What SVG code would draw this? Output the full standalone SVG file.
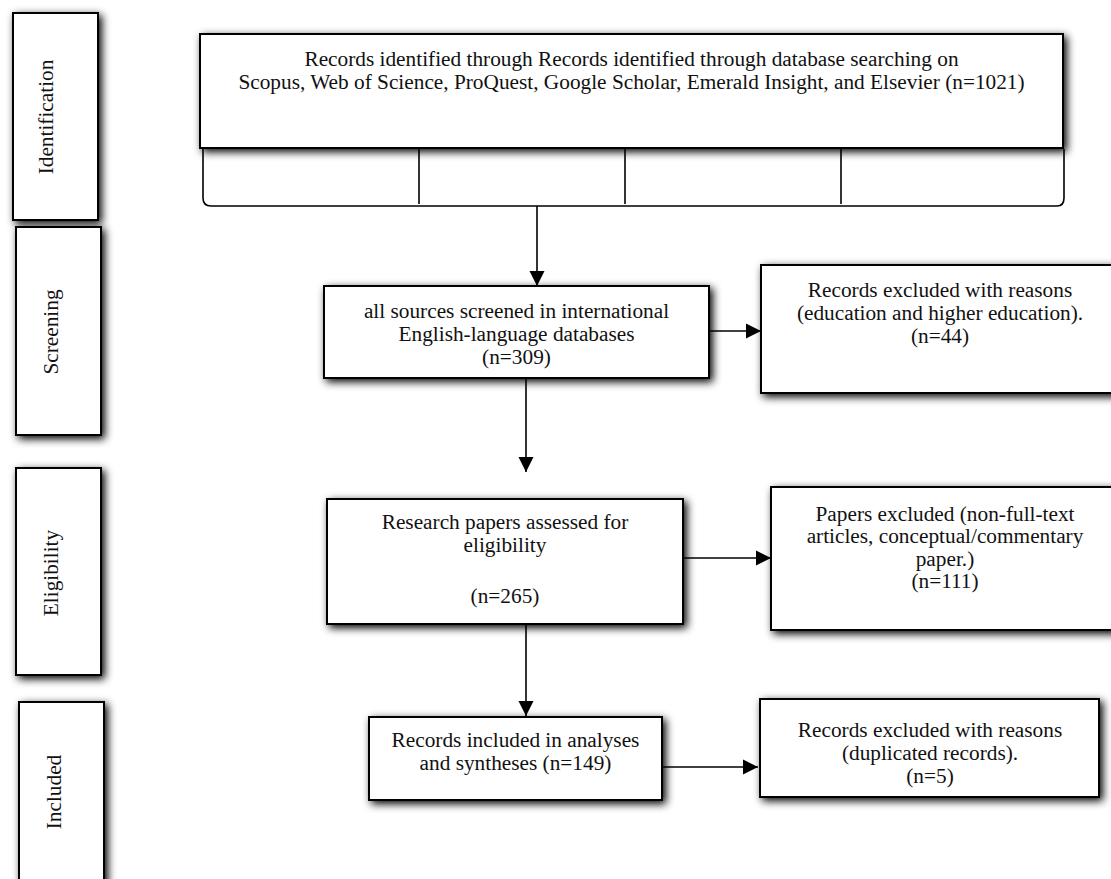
<svg xmlns="http://www.w3.org/2000/svg" width="1111" height="879" viewBox="0 0 1111 879">
<style>
.box{fill:#fff;stroke:#000;stroke-width:2;filter:url(#sh)}
.t{font-family:"Liberation Serif","Times New Roman",serif;font-size:21.3px;fill:#111;text-anchor:middle}
.c{fill:none;stroke:#000;stroke-width:1.6}
</style>
<defs>
<filter id="sh" x="-20%" y="-20%" width="140%" height="140%">
<feGaussianBlur in="SourceAlpha" stdDeviation="4" result="b"/>
<feOffset in="b" dx="3" dy="3" result="o"/>
<feComponentTransfer in="o" result="s"><feFuncA type="linear" slope="1"/></feComponentTransfer>
<feMerge><feMergeNode in="s"/><feMergeNode in="SourceGraphic"/></feMerge>
</filter>
<marker id="ah" markerUnits="userSpaceOnUse" markerWidth="16" markerHeight="16" viewBox="0 0 16 16" refX="15" refY="8" orient="auto">
<path d="M0,0.5 L15,8 L0,15.5 Z" fill="#000"/>
</marker>
</defs>

<g id="stage-identification">
<rect class="box" x="13" y="13" width="85" height="207"/>
<text class="t" transform="translate(53,117) rotate(-90)">Identification</text>
</g>
<g id="stage-screening">
<rect class="box" x="16" y="227" width="85" height="208"/>
<text class="t" transform="translate(58,332) rotate(-90)">Screening</text>
</g>
<g id="stage-eligibility">
<rect class="box" x="16" y="468" width="85" height="207"/>
<text class="t" transform="translate(58,573) rotate(-90)">Eligibility</text>
</g>
<g id="stage-included">
<rect class="box" x="19" y="702" width="85" height="182"/>
<text class="t" transform="translate(61,792) rotate(-90)">Included</text>
</g>

<g id="identified">
<rect class="box" x="200" y="34" width="863" height="114"/>
<text class="t" x="631.5" y="66">Records identified through Records identified through database searching on</text>
<text class="t" x="631.5" y="89">Scopus, Web of Science, ProQuest, Google Scholar, Emerald Insight, and Elsevier (n=1021)</text>
</g>

<g id="screened">
<rect class="box" x="324" y="286" width="385" height="92"/>
<text class="t" x="516.5" y="318">all sources screened in international</text>
<text class="t" x="516.5" y="341">English-language databases</text>
<text class="t" x="516.5" y="364">(n=309)</text>
</g>

<g id="excluded-screening">
<rect class="box" x="761" y="265" width="365" height="128"/>
<text class="t" x="940" y="297">Records excluded with reasons</text>
<text class="t" x="940" y="320">(education and higher education).</text>
<text class="t" x="940" y="343">(n=44)</text>
</g>

<g id="eligibility">
<rect class="box" x="327" y="499" width="356" height="125"/>
<text class="t" x="505" y="529">Research papers assessed for</text>
<text class="t" x="505" y="552">eligibility</text>
<text class="t" x="505" y="603">(n=265)</text>
</g>

<g id="excluded-eligibility">
<rect class="box" x="771" y="487" width="350" height="143"/>
<text class="t" x="945" y="521">Papers excluded (non-full-text</text>
<text class="t" x="945" y="543">articles, conceptual/commentary</text>
<text class="t" x="945" y="566">paper.)</text>
<text class="t" x="945" y="588">(n=111)</text>
</g>

<g id="included">
<rect class="box" x="369" y="717" width="293" height="83"/>
<text class="t" x="515.5" y="747">Records included in analyses</text>
<text class="t" x="515.5" y="770">and syntheses (n=149)</text>
</g>

<g id="excluded-duplicates">
<rect class="box" x="760" y="699" width="339" height="98"/>
<text class="t" x="930" y="737">Records excluded with reasons</text>
<text class="t" x="930" y="760">(duplicated records).</text>
<text class="t" x="930" y="783">(n=5)</text>
</g>

<g id="connectors">
<path class="c" d="M203,149 L203,198 Q203,206 211,206 L1057,206 Q1064,206 1064,198 L1064,149"/>
<line class="c" x1="419" y1="149" x2="419" y2="204"/>
<line class="c" x1="625" y1="149" x2="625" y2="204"/>
<line class="c" x1="841" y1="149" x2="841" y2="204"/>
<line class="c" x1="537" y1="206" x2="537" y2="286" marker-end="url(#ah)"/>
<line class="c" x1="709" y1="331" x2="761" y2="331" marker-end="url(#ah)"/>
<line class="c" x1="526" y1="378" x2="526" y2="472" marker-end="url(#ah)"/>
<line class="c" x1="683" y1="558" x2="771" y2="558" marker-end="url(#ah)"/>
<line class="c" x1="526" y1="624" x2="526" y2="716" marker-end="url(#ah)"/>
<line class="c" x1="662" y1="767" x2="758" y2="767" marker-end="url(#ah)"/>
</g>
</svg>
